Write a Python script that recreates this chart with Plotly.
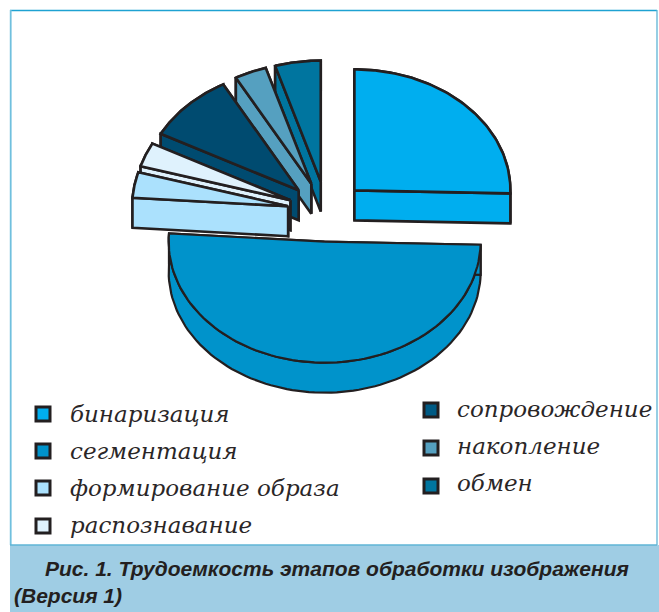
import numpy as np
import plotly.graph_objects as go

# ---- data ----
categories = ["бинаризация", "сегментация", "формирование образа", "распознавание",
              "сопровождение", "накопление", "обмен"]
values = [25.3, 50.5, 3.4, 3.2, 9.2, 3.3, 4.7]
top_colors = ["#00aeef", "#0093cb", "#abe1fd", "#dff2fd", "#004b70", "#55a0c0", "#00759f"]
swatch_colors = ["#00aeef", "#0093cb", "#abe1fd", "#dff2fd", "#005a84", "#55a0c0", "#00759f"]
line_widths = [2.6, 2.2, 2.6, 2.6, 2.6, 2.6, 2.6]
caption_line1 = "Рис. 1. Трудоемкость этапов обработки изображения"
caption_line2 = "(Версия 1)"

# ---- pie geometry (style) ----
CX, CY = 326.5, 211.5
RX, RY = 156, 121
DEPTH = 30
EXPLODE = 0.25
INK = "#231f20"

W, H = 659, 612
total = sum(values)
edges = np.concatenate([[0.0], np.cumsum(values)]) / total * 2 * np.pi


def pt(theta, r=1.0):
    return r * RX * np.sin(theta), -r * RY * np.cos(theta)


fig = go.Figure()


def poly(xs, ys, color, name, lw):
    fig.add_trace(go.Scatter(
        x=list(xs) + [xs[0]], y=list(ys) + [ys[0]], mode="lines", fill="toself",
        fillcolor=color, line=dict(color=INK, width=lw, shape="linear"),
        name=name, hoverinfo="name", showlegend=False))


# painter's order: back slices first, the two big ones last
order = [6, 5, 4, 3, 2, 0, 1]
for i in order:
    a, b = edges[i], edges[i + 1]
    mid = (a + b) / 2
    ox, oy = pt(mid, EXPLODE)
    ax, ay = CX + ox, CY + oy
    th = np.linspace(a, b, 90)
    ex, ey = pt(th)
    ex, ey = ax + ex, ay + ey
    lw = line_widths[i]
    # outer wall first, then the radial walls (the lower one last)
    poly(list(ex) + list(ex[::-1]), list(ey) + list(ey[::-1] + DEPTH), top_colors[i], categories[i], lw)
    for k in sorted((0, -1), key=lambda n: ey[n]):
        poly([ax, ex[k], ex[k], ax], [ay, ey[k], ey[k] + DEPTH, ay + DEPTH], top_colors[i], categories[i], lw)
    # top face
    poly([ax] + list(ex), [ay] + list(ey), top_colors[i], categories[i], lw)

# ---- legend ----
leg_x = [43, 43, 43, 43, 431, 431, 431]
leg_y = [414, 451, 488, 526, 410, 448, 486]
txt_y = [414, 451, 488, 525, 409, 446, 483]
txt_x = [68, 68, 68, 68, 455, 455, 455]
fig.add_trace(go.Scatter(
    x=leg_x, y=leg_y, mode="markers", hoverinfo="skip", showlegend=False,
    marker=dict(symbol="square", size=14, color=swatch_colors, line=dict(color=INK, width=3))))
ann = []
for c, x, y in zip(categories, txt_x, txt_y):
    ann.append(dict(x=x, y=y, text=c, showarrow=False, xanchor="left", yanchor="middle",
                    xref="x", yref="y",
                    font=dict(family="DejaVu Serif", size=23, style="italic", color="#2a2627")))
cap_font = dict(family="Liberation Sans", size=21, color=INK, weight=700, style="italic")
ann.append(dict(x=43, y=568, text=caption_line1, showarrow=False, xanchor="left",
                yanchor="middle", xref="x", yref="y", font=cap_font))
ann.append(dict(x=12, y=595, text=caption_line2, showarrow=False, xanchor="left",
                yanchor="middle", xref="x", yref="y", font=cap_font))

shapes = [
    dict(type="rect", x0=10, x1=W, y0=545, y1=H, fillcolor="#9fcde4", line_width=0, layer="below"),
    dict(type="line", x0=10, x1=657, y0=10.5, y1=10.5, line=dict(color="#1ea2d2", width=1.3), layer="below"),
    dict(type="line", x0=10.7, x1=10.7, y0=10, y1=545, line=dict(color="#70c0de", width=1.8), layer="below"),
    dict(type="line", x0=657, x1=657, y0=10, y1=545, line=dict(color="#5fb4d6", width=1.3), layer="below"),
    dict(type="line", x0=10, x1=657, y0=545, y1=545, line=dict(color="#5fb4d6", width=1.3), layer="below"),
]

fig.update_layout(
    width=W, height=H, margin=dict(l=0, r=0, t=0, b=0), showlegend=False,
    paper_bgcolor="white", plot_bgcolor="white", shapes=shapes, annotations=ann,
    xaxis=dict(range=[0, W], visible=False, fixedrange=True),
    yaxis=dict(range=[H, 0], visible=False, fixedrange=True),
)
fig.write_html("out.html", config={"displayModeBar": False},
               post_script="document.body.style.margin='0';document.body.style.overflow='hidden';")
